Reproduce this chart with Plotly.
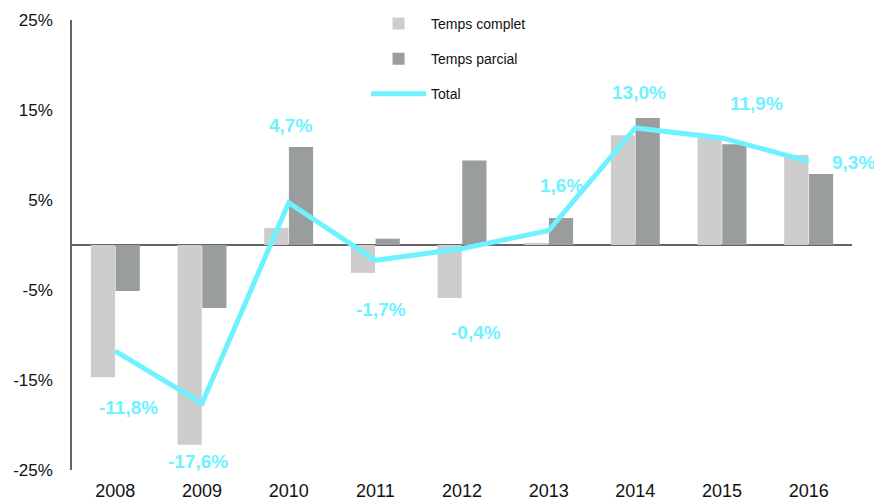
import plotly.graph_objects as go

years = ["2008", "2009", "2010", "2011", "2012", "2013", "2014", "2015", "2016"]
temps_complet = [-14.7, -22.2, 1.9, -3.1, -5.9, 0.2, 12.2, 11.9, 10.0]
temps_parcial = [-5.1, -7.0, 10.9, 0.7, 9.4, 3.0, 14.1, 11.2, 7.9]
total = [-11.8, -17.6, 4.7, -1.7, -0.4, 1.6, 13.0, 11.9, 9.3]
total_labels = ["-11,8%", "-17,6%", "4,7%", "-1,7%", "-0,4%", "1,6%", "13,0%", "11,9%", "9,3%"]
label_dx = [13, -4, 2, 6, 14, 13, 4, 34, 45]
label_dy = [-56, -58, 77, -49, -84, 45, 36, 34, -1]
y_ticks = [-25, -15, -5, 5, 15, 25]
y_ticktext = ["-25%", "-15%", "-5%", "5%", "15%", "25%"]

FONT = "Liberation Sans, Arial, sans-serif"
CYAN = "#6EF2FF"

fig = go.Figure()
fig.add_trace(go.Bar(x=years, y=temps_complet, name="Temps complet",
                     marker=dict(color="#CDCDCD", line=dict(width=0)),
                     legendgroup="a"))
fig.add_trace(go.Bar(x=years, y=temps_parcial, name="Temps parcial",
                     marker=dict(color="#9A9D9D", line=dict(width=0)),
                     legendgroup="b"))
fig.add_trace(go.Scatter(x=years, y=total, name="Total", mode="lines",
                         line=dict(color=CYAN, width=5), legendgroup="c"))

# category axis: annotations are placed by category index
for i, (v, t, dx, dy) in enumerate(zip(total, total_labels, label_dx, label_dy)):
    fig.add_annotation(x=i, y=v, xref="x", yref="y", text="<b>" + t + "</b>",
                       showarrow=False, xshift=dx, yshift=dy,
                       font=dict(family=FONT, size=19, color=CYAN))

fig.update_layout(
    width=874, height=496,
    margin=dict(l=64, r=30, t=12, b=34, autoexpand=False),
    paper_bgcolor="white", plot_bgcolor="white",
    barmode="group", bargap=0.43, bargroupgap=0.02,
    font=dict(family=FONT, size=16, color="#111"),
    legend=dict(x=0.377, y=1.027, xanchor="left", yanchor="top",
                font=dict(family=FONT, size=14, color="#111"),
                itemwidth=55,
                tracegroupgap=14, bgcolor="rgba(0,0,0,0)"),
    showlegend=True,
)
fig.update_xaxes(type="category", showline=False, showgrid=False, ticks="",
                 tickfont=dict(size=18), range=[-0.5, 8.5], ticklabelstandoff=8)
fig.update_yaxes(range=[-25, 25], tickvals=y_ticks, ticktext=y_ticktext,
                 showgrid=False, showline=True, linecolor="#666", linewidth=1.5,
                 zeroline=True, zerolinecolor="#666", zerolinewidth=1.5,
                 ticks="", ticklabelstandoff=14, tickfont=dict(size=17))

fig.write_html("out.html")
